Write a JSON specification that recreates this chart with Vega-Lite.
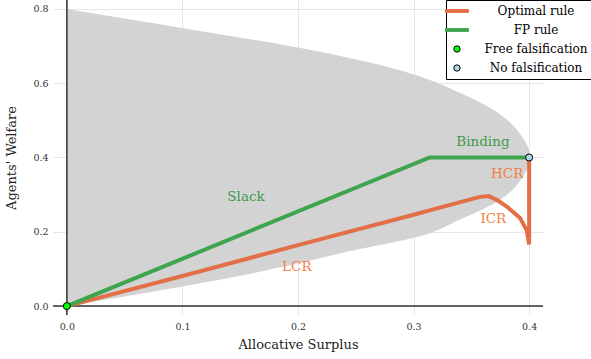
{
  "$schema": "https://vega.github.io/schema/vega-lite/v6.json",
  "width": 490,
  "height": 315,
  "autosize": {"type": "none"},
  "padding": {"left": 53, "top": 0, "right": 48, "bottom": 44},
  "background": "white",
  "config": {
    "view": {"stroke": null},
    "font": "DejaVu Serif",
    "axis": {"labelFont": "DejaVu Serif", "titleFont": "DejaVu Serif", "gridColor": "#e6e6e6", "gridWidth": 1, "domain": false, "ticks": false, "labelColor": "#333333", "titleColor": "#222222", "titleFontWeight": "normal", "labelFontSize": 9.5, "titleFontSize": 13}
  },
  "datasets": {
    "region": [
      {"y": 0.0, "x": 0.0},
      {"y": 0.026, "x": 0.05},
      {"y": 0.053, "x": 0.1},
      {"y": 0.076, "x": 0.141},
      {"y": 0.115, "x": 0.2},
      {"y": 0.148, "x": 0.245},
      {"y": 0.188, "x": 0.3056},
      {"y": 0.233, "x": 0.34},
      {"y": 0.2865, "x": 0.375},
      {"y": 0.345, "x": 0.394},
      {"y": 0.4, "x": 0.401},
      {"y": 0.46, "x": 0.393},
      {"y": 0.516, "x": 0.375},
      {"y": 0.57, "x": 0.343},
      {"y": 0.635, "x": 0.288},
      {"y": 0.69, "x": 0.21},
      {"y": 0.748, "x": 0.1007},
      {"y": 0.774, "x": 0.05},
      {"y": 0.8, "x": 0.0}
    ],
    "lines": [
      {"series": "Optimal rule", "order": 1, "x": 0.0, "y": 0.0},
      {"series": "Optimal rule", "order": 2, "x": 0.1, "y": 0.081},
      {"series": "Optimal rule", "order": 3, "x": 0.2, "y": 0.164},
      {"series": "Optimal rule", "order": 4, "x": 0.3, "y": 0.246},
      {"series": "Optimal rule", "order": 5, "x": 0.35, "y": 0.288},
      {"series": "Optimal rule", "order": 6, "x": 0.3576, "y": 0.294},
      {"series": "Optimal rule", "order": 7, "x": 0.3648, "y": 0.296},
      {"series": "Optimal rule", "order": 8, "x": 0.372, "y": 0.286},
      {"series": "Optimal rule", "order": 9, "x": 0.3807, "y": 0.268},
      {"series": "Optimal rule", "order": 10, "x": 0.3922, "y": 0.237},
      {"series": "Optimal rule", "order": 11, "x": 0.398, "y": 0.203},
      {"series": "Optimal rule", "order": 12, "x": 0.4, "y": 0.166},
      {"series": "Optimal rule", "order": 13, "x": 0.4, "y": 0.4},
      {"series": "FP rule", "order": 1, "x": 0.0, "y": 0.0},
      {"series": "FP rule", "order": 2, "x": 0.314, "y": 0.4},
      {"series": "FP rule", "order": 3, "x": 0.4, "y": 0.4}
    ],
    "points": [
      {"series": "Free falsification", "x": 0.0, "y": 0.0},
      {"series": "No falsification", "x": 0.4, "y": 0.4}
    ],
    "labels": [
      {"label": "Binding", "rule": "FP", "x": 0.36, "y": 0.442},
      {"label": "Slack", "rule": "FP", "x": 0.155, "y": 0.2945},
      {"label": "HCR", "rule": "Optimal", "x": 0.381, "y": 0.356},
      {"label": "ICR", "rule": "Optimal", "x": 0.369, "y": 0.235},
      {"label": "LCR", "rule": "Optimal", "x": 0.199, "y": 0.104}
    ]
  },
  "encoding": {
    "x": {"type": "quantitative", "scale": {"domain": [-0.012, 0.412], "nice": false, "zero": false}},
    "y": {"type": "quantitative", "scale": {"domain": [-0.024, 0.824], "nice": false, "zero": false}}
  },
  "layer": [
    {
      "data": {"name": "region"},
      "mark": {"type": "area", "orient": "horizontal", "color": "#d3d3d3", "interpolate": "monotone"},
      "encoding": {
        "y": {"field": "y", "type": "quantitative", "title": "Agents' Welfare", "axis": {"values": [0, 0.2, 0.4, 0.6, 0.8], "format": ".1f", "labelPadding": 5, "titlePadding": 14}},
        "x": {"field": "x", "type": "quantitative", "title": "Allocative Surplus", "axis": {"values": [0, 0.1, 0.2, 0.3, 0.4], "format": ".1f", "labelPadding": 6, "titlePadding": 8}},
        "x2": {"datum": 0}
      }
    },
    {
      "data": {"values": [{"v": 0}]},
      "mark": {"type": "rule", "color": "#333333", "strokeWidth": 1.5},
      "encoding": {"x": {"datum": 0}}
    },
    {
      "data": {"values": [{"v": 0}]},
      "mark": {"type": "rule", "color": "#333333", "strokeWidth": 1.5},
      "encoding": {"y": {"datum": 0}}
    },
    {
      "data": {"name": "lines"},
      "mark": {"type": "line", "strokeWidth": 4},
      "encoding": {
        "x": {"field": "x", "type": "quantitative"},
        "y": {"field": "y", "type": "quantitative"},
        "order": {"field": "order", "type": "quantitative"},
        "color": {
          "field": "series", "type": "nominal",
          "scale": {"domain": ["Optimal rule", "FP rule", "Free falsification", "No falsification"], "range": ["#E36F47", "#3EA44E", "black", "black"]},
          "legend": {
            "title": null, "orient": "none", "legendX": 393, "legendY": 0,
            "strokeColor": "black", "fillColor": "white", "padding": 5,
            "labelFont": "DejaVu Serif", "labelFontSize": 12, "labelColor": "black",
            "labelAlign": "center", "labelOffset": 73,
            "symbolSize": 529, "symbolStrokeWidth": 1, "rowPadding": 7,
            "encode": {
              "symbols": {
                "update": {
                  "shape": {"signal": "datum.value == 'Optimal rule' || datum.value == 'FP rule' ? 'M-1,-0.12H1V0.12H-1Z' : 'circle'"},
                  "size": {"signal": "datum.value == 'Optimal rule' || datum.value == 'FP rule' ? 529 : 40"},
                  "stroke": {"signal": "datum.value == 'Optimal rule' ? '#E36F47' : datum.value == 'FP rule' ? '#3EA44E' : 'black'"},
                  "strokeWidth": {"value": 1},
                  "fill": {"signal": "datum.value == 'Optimal rule' ? '#E36F47' : datum.value == 'FP rule' ? '#3EA44E' : datum.value == 'Free falsification' ? '#00ff00' : '#add8e6'"},
                  "opacity": {"value": 1},
                  "strokeOpacity": {"value": 1},
                  "fillOpacity": {"value": 1}
                }
              }
            }
          }
        }
      }
    },
    {
      "data": {"name": "points"},
      "mark": {"type": "point", "filled": true, "size": 50, "stroke": "black", "strokeWidth": 1, "opacity": 1},
      "encoding": {
        "x": {"field": "x", "type": "quantitative"},
        "y": {"field": "y", "type": "quantitative"},
        "fill": {"field": "series", "type": "nominal", "scale": {"domain": ["Free falsification", "No falsification"], "range": ["#00ff00", "#add8e6"]}, "legend": null}
      }
    },
    {
      "data": {"name": "labels"},
      "transform": [{"filter": "datum.rule == 'FP'"}],
      "mark": {"type": "text", "font": "DejaVu Serif", "fontSize": 13.5, "color": "#3d9a4c"},
      "encoding": {
        "x": {"field": "x", "type": "quantitative"},
        "y": {"field": "y", "type": "quantitative"},
        "text": {"field": "label"}
      }
    },
    {
      "data": {"name": "labels"},
      "transform": [{"filter": "datum.rule == 'Optimal'"}],
      "mark": {"type": "text", "font": "DejaVu Serif", "fontSize": 13.5, "color": "#f27f3d"},
      "encoding": {
        "x": {"field": "x", "type": "quantitative"},
        "y": {"field": "y", "type": "quantitative"},
        "text": {"field": "label"}
      }
    }
  ]
}
